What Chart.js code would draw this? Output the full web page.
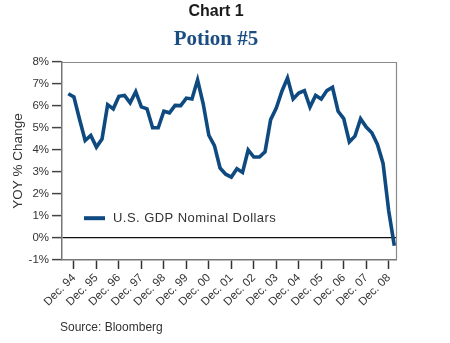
<!DOCTYPE html>
<html>
<head>
<meta charset="utf-8">
<script src="https://cdn.jsdelivr.net/npm/chart.js@4.4.1/dist/chart.umd.min.js"></script>
<style>
  html, body { margin: 0; padding: 0; background: #fff; }
  #wrap { position: relative; width: 450px; height: 343px; }
  canvas { position: absolute; left: 0; top: 0; }
</style>
</head>
<body>
<div id="wrap"><canvas id="c" width="450" height="343"></canvas></div>
<script>
// Quarterly periods, Sep. 94 through Mar. 09
const quarters = [
  "Sep. 94","Dec. 94","Mar. 95","Jun. 95","Sep. 95","Dec. 95","Mar. 96","Jun. 96","Sep. 96","Dec. 96",
  "Mar. 97","Jun. 97","Sep. 97","Dec. 97","Mar. 98","Jun. 98","Sep. 98","Dec. 98","Mar. 99","Jun. 99",
  "Sep. 99","Dec. 99","Mar. 00","Jun. 00","Sep. 00","Dec. 00","Mar. 01","Jun. 01","Sep. 01","Dec. 01",
  "Mar. 02","Jun. 02","Sep. 02","Dec. 02","Mar. 03","Jun. 03","Sep. 03","Dec. 03","Mar. 04","Jun. 04",
  "Sep. 04","Dec. 04","Mar. 05","Jun. 05","Sep. 05","Dec. 05","Mar. 06","Jun. 06","Sep. 06","Dec. 06",
  "Mar. 07","Jun. 07","Sep. 07","Dec. 07","Mar. 08","Jun. 08","Sep. 08","Dec. 08","Mar. 09"
];

// U.S. GDP nominal dollars, year-over-year % change
const gdpYoY = [
  6.56, 6.41, 5.40, 4.43, 4.66, 4.13, 4.50, 6.06, 5.87, 6.44,
  6.48, 6.14, 6.65, 5.96, 5.87, 5.01, 5.01, 5.76, 5.69, 6.03,
  6.02, 6.36, 6.32, 7.18, 6.10, 4.67, 4.20, 3.18, 2.90, 2.77,
  3.15, 2.98, 4.00, 3.68, 3.68, 3.92, 5.38, 5.91, 6.67, 7.27,
  6.32, 6.59, 6.70, 5.95, 6.48, 6.32, 6.70, 6.85, 5.76, 5.43,
  4.37, 4.63, 5.42, 5.04, 4.78, 4.25, 3.39, 1.24, -0.35
];

// X-axis tick labels (one per December)
const tickLabels = [
  "Dec. 94","Dec. 95","Dec. 96","Dec. 97","Dec. 98","Dec. 99","Dec. 00","Dec. 01",
  "Dec. 02","Dec. 03","Dec. 04","Dec. 05","Dec. 06","Dec. 07","Dec. 08"
];

const seriesLabel = "U.S. GDP Nominal Dollars";
const lineColor = "#0e4a80";
const FONT = "'Liberation Sans', Arial, sans-serif";

// Positions on the quarter axis where each tick label sits
const tickPositions = tickLabels.map(l => quarters.indexOf(l));
const points = gdpYoY.map((v, i) => ({ x: i, y: v }));

// Headings, in-plot legend, plot frame and source line
const decorations = {
  id: 'decorations',
  beforeDraw(chart) {
    const { ctx } = chart;
    ctx.save();
    ctx.fillStyle = '#fff';
    ctx.fillRect(0, 0, chart.width, chart.height);
    ctx.restore();
  },
  afterDraw(chart) {
    const { ctx, chartArea: a } = chart;
    ctx.save();
    // frame around the plot
    ctx.strokeStyle = '#8a8a8a';
    ctx.lineWidth = 1.2;
    ctx.beginPath();
    ctx.moveTo(a.left, a.top + 0.5);
    ctx.lineTo(a.right + 0.5, a.top + 0.5);
    ctx.lineTo(a.right + 0.5, a.bottom);
    ctx.stroke();

    // headings
    ctx.textAlign = 'center';
    ctx.textBaseline = 'middle';
    ctx.fillStyle = '#1a1a1a';
    ctx.font = "bold 16px " + FONT;
    ctx.fillText("Chart 1", 216, 12);
    ctx.fillStyle = '#1b4c82';
    ctx.font = "bold 21px 'Liberation Serif', 'DejaVu Serif', serif";
    ctx.fillText("Potion #5", 216, 40);

    // legend inside the plot
    const ds = chart.data.datasets[0];
    const ly = chart.scales.y.getPixelForValue(0.9);
    ctx.strokeStyle = ds.borderColor;
    ctx.lineWidth = 4;
    ctx.beginPath();
    ctx.moveTo(84, ly);
    ctx.lineTo(105, ly);
    ctx.stroke();
    ctx.fillStyle = '#333';
    ctx.textAlign = 'left';
    ctx.font = "13px " + FONT;
    ctx.letterSpacing = '0.45px';
    ctx.fillText(ds.label, 113, ly + 0.5);

    // source
    ctx.letterSpacing = '0px';
    ctx.font = "12px " + FONT;
    ctx.fillStyle = '#333';
    ctx.fillText("Source: Bloomberg", 60, 328);
    ctx.restore();
  }
};

new Chart(document.getElementById('c'), {
  type: 'line',
  data: {
    datasets: [{
      label: seriesLabel,
      data: points,
      borderColor: lineColor,
      borderWidth: 3.6,
      pointRadius: 0,
      tension: 0,
      fill: false
    }]
  },
  options: {
    responsive: false,
    animation: false,
    devicePixelRatio: 1,
    layout: { padding: { left: 0, right: 54, top: 62, bottom: 0 } },
    plugins: {
      legend: { display: false },
      title: { display: false },
      tooltip: { enabled: false }
    },
    scales: {
      x: {
        type: 'linear',
        min: -1.12,
        max: 58.3,
        afterBuildTicks(scale) {
          scale.ticks = tickPositions.map(v => ({ value: v }));
        },
        afterFit(scale) { scale.height = 83; },
        grid: {
          drawOnChartArea: false,
          drawTicks: true,
          tickLength: 9,
          tickColor: '#333',
          tickWidth: 1.5
        },
        border: { display: true, color: '#777', width: 1.5 },
        ticks: {
          autoSkip: false,
          minRotation: 45,
          maxRotation: 45,
          padding: 2,
          color: '#333',
          font: { family: FONT, size: 11.5 },
          callback(value, index) { return tickLabels[index]; }
        }
      },
      y: {
        min: -1,
        max: 8,
        afterFit(scale) { scale.width = 62; },
        grid: {
          drawOnChartArea: true,
          drawTicks: true,
          tickLength: 10,
          color: ctx => (ctx.tick && ctx.tick.value === 0) ? '#111' : 'rgba(0,0,0,0)',
          lineWidth: 1.2,
          tickColor: '#444',
          tickWidth: 1.5
        },
        border: { display: true, color: '#777', width: 1.5 },
        title: {
          display: true,
          text: 'YOY % Change',
          color: '#333',
          font: { family: FONT, size: 13.5 },
          padding: { top: 10, bottom: 0 }
        },
        ticks: {
          stepSize: 1,
          padding: 3,
          color: '#333',
          font: { family: FONT, size: 11.5 },
          callback: v => v + '%'
        }
      }
    }
  },
  plugins: [decorations]
});
</script>
</body>
</html>
